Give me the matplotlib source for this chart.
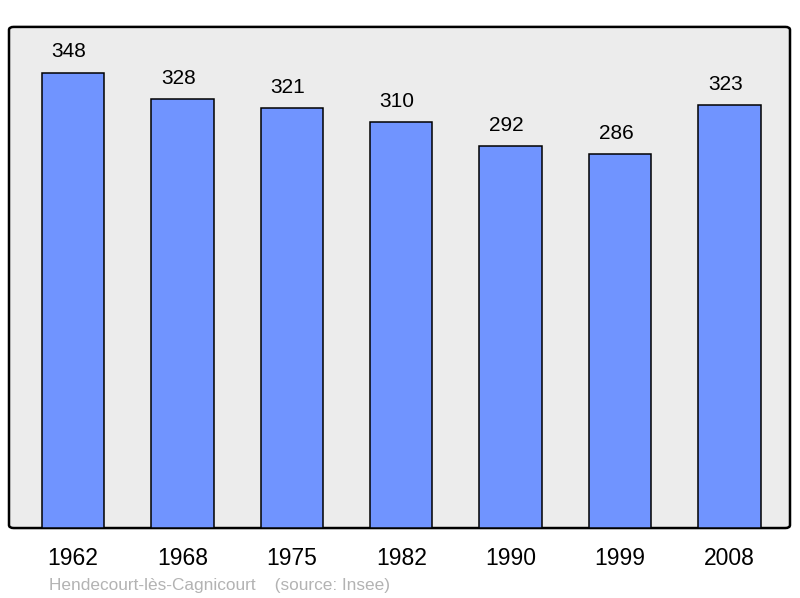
import matplotlib.pyplot as plt
from matplotlib.patches import FancyBboxPatch

years = ['1962', '1968', '1975', '1982', '1990', '1999', '2008']
population = [348, 328, 321, 310, 292, 286, 323]
place = 'Hendecourt-lès-Cagnicourt'

plt.rcParams['font.family'] = ['Liberation Sans', 'DejaVu Sans']

fig = plt.figure(figsize=(8, 5.98), dpi=100)
ax = fig.add_axes([0.01125, 0.117, 0.97625, 0.838])
ax.set_facecolor('none')

# rounded frame behind the bars
frame = FancyBboxPatch((0, 0), 1, 1, boxstyle='round,pad=0,rounding_size=0.006',
                       transform=ax.transAxes, facecolor='#ececec', edgecolor='black',
                       linewidth=1.8, zorder=0, clip_on=False)
ax.add_patch(frame)

x = range(len(years))
ax.bar(x, population, width=0.57, color='#7094ff', edgecolor='black', linewidth=1.1, zorder=2)
for i, v in enumerate(population):
    ax.annotate(str(v), (i, v), xytext=(-3, 11), textcoords='offset points',
                ha='center', va='baseline', fontsize=15)

ax.set_xlim(-0.585, 6.553)
ax.set_ylim(0, 383)
ax.set_xticks(list(x))
ax.set_xticklabels(years, fontsize=16.5)
ax.tick_params(axis='x', length=0, pad=14)
ax.set_yticks([])
for s in ax.spines.values():
    s.set_visible(False)

fig.text(0.061, 0.013, place + '    (source: Insee)', color='#b3b3b3', fontsize=12.4)

fig.savefig('out.png', dpi=100)
